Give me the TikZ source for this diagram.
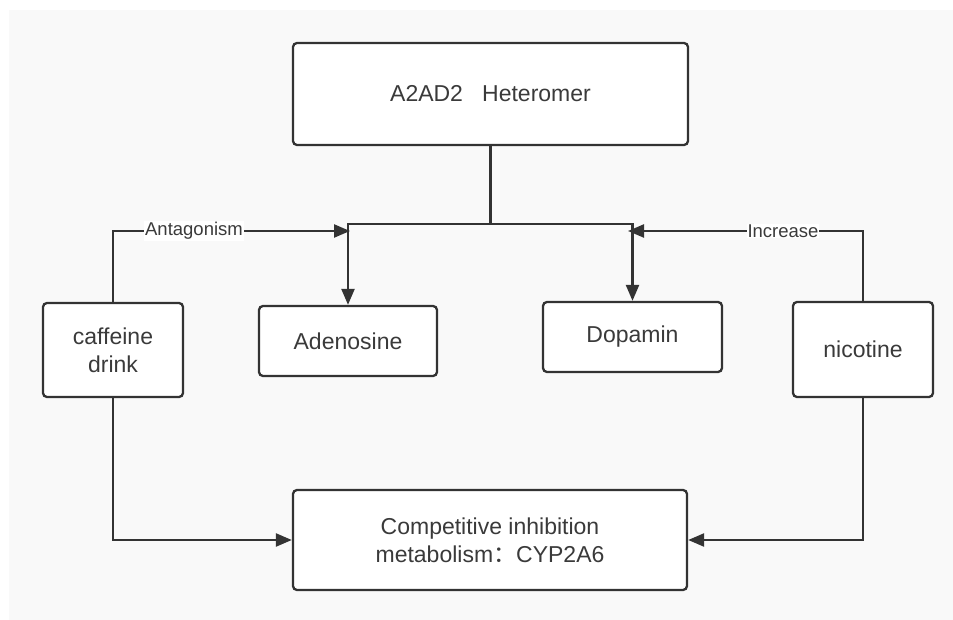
\documentclass[tikz,border=0pt]{standalone}
\usepackage{fontspec}
\setmainfont{Liberation Sans}
\newfontfamily\cjk{Noto Sans CJK SC}
\usetikzlibrary{arrows.meta}
\definecolor{linec}{HTML}{333333}
\definecolor{textc}{HTML}{3A3A3A}
\definecolor{bgc}{HTML}{F9F9F9}
\tikzset{
  box/.style={draw=linec, line width=2.3pt, fill=white, rounded corners=4pt,
    align=center, text=textc, inner sep=0pt,
    font=\fontsize{23}{28}\selectfont},
  conn/.style={draw=linec, line width=2.3pt},
  arr/.style={conn, -{Triangle[length=16pt,width=13pt]}},
  lbl/.style={fill=white, text=textc, inner sep=1pt,
    font=\fontsize{18.5}{20}\selectfont}
}
\begin{document}
\begin{tikzpicture}[x=1pt,y=-1pt]
\useasboundingbox (0,0) rectangle (953,620);
\fill[bgc] (9,10) rectangle (953,620);

\node[box, minimum width=395pt, minimum height=102pt] (top) at (490.5,94) {A2AD2\ \ \ Heteromer};
\node[box, minimum width=140pt, minimum height=94pt] (caff) at (113,350) {caffeine\\drink};
\node[box, minimum width=178pt, minimum height=70pt] (aden) at (348,341) {Adenosine};
\node[box, minimum width=179pt, minimum height=70pt] (dopa) at (632.5,337) {Dopamin};
\node[box, minimum width=140pt, minimum height=95pt] (nico) at (863,349.5) {nicotine};
\node[box, minimum width=394pt, minimum height=100pt] (comp) at (490,540) {Competitive inhibition\\metabolism{\cjk ：}CYP2A6};

\coordinate (split) at (490.5,224);
\coordinate (aj) at (348,224);
\coordinate (dj) at (632.5,224);
\coordinate (antag) at (350,231);
\coordinate (incr) at (628,231);

\draw[conn] (top.south) -- (split);
\draw[arr] (split) -- (aj) -- (aden.north);
\draw[arr] (split) -- (dj) -- (dopa.north);

\draw[arr] (caff.north) |- (antag);
\draw[arr] (nico.north) |- (incr);

\node[lbl] (lant) at (194,231) {Antagonism};
\node[lbl] (linc) at (783,231) {Increase};

\draw[arr] (caff.south) |- (comp.west);
\draw[arr] (nico.south) |- (comp.east);
\end{tikzpicture}
\end{document}
